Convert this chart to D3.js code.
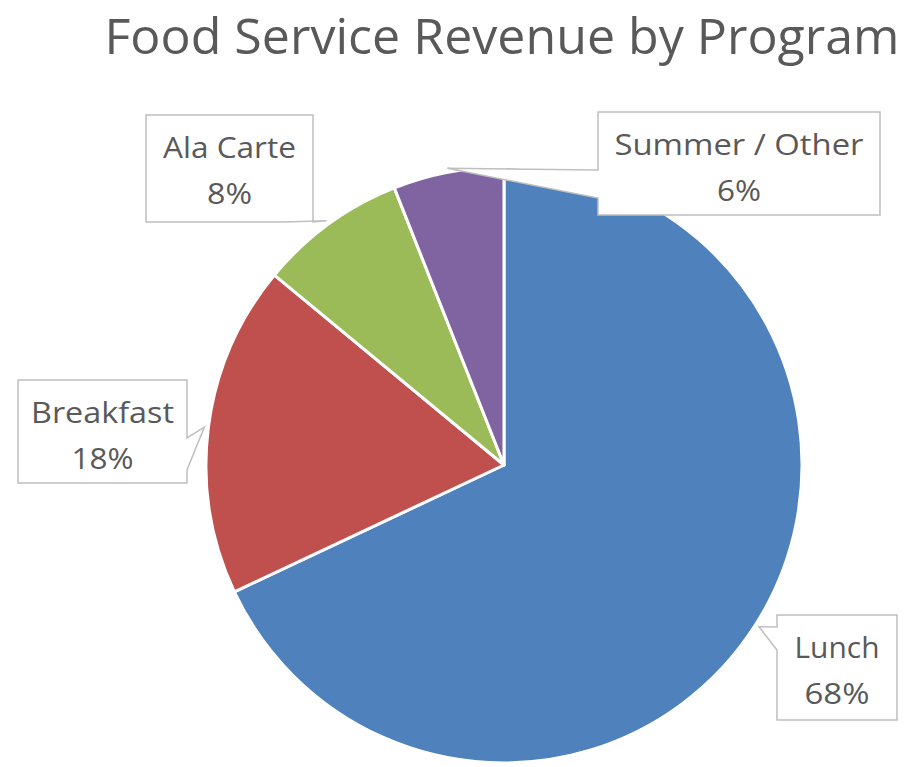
<!DOCTYPE html>
<html>
<head>
<meta charset="utf-8">
<script src="https://cdn.jsdelivr.net/npm/d3@7"></script>
<style>
	html, body { margin: 0; padding: 0; background: #fff; }
	svg { display: block; }
</style>
</head>
<body>
<div id="chart"></div>
<script>
// data
var categories = ['Lunch', 'Breakfast', 'Ala Carte', 'Summer / Other'];
var values = [68, 18, 8, 6];
var colors = ['#4F81BD', '#C0504D', '#9BBB59', '#8064A2'];

var chartTitle = 'Food Service Revenue by Program';

var width = 914, height = 767;
var cx = 504, cy = 465, radius = 298;

// callout boxes (layout only), wedge base sits on one side of the box
var callouts = {
	'Lunch':          { x: 777, y: 615, w: 120, h: 105, side: 'left',   b1: 12, b2: 35, tw: [85, 65] },
	'Breakfast':      { x: 18,  y: 380, w: 169, h: 103, side: 'right',  b1: 58, b2: 90, tw: [143, 62] },
	'Ala Carte':      { x: 146, y: 115, w: 167, h: 107, side: 'bottom', b1: 137, b2: 167, tw: [133, 45] },
	'Summer / Other': { x: 598, y: 112, w: 282, h: 103, side: 'left',   b1: 58, b2: 86, tw: [249, 44] }
};

var svg = d3.select('#chart')
	.append('svg')
	.attr('width', width)
	.attr('height', height)
	.style('font-family', '"Open Sans", "Noto Sans", sans-serif');

svg.append('text')
	.attr('x', 502)
	.attr('y', 54)
	.attr('text-anchor', 'middle')
	.attr('font-size', 49)
	.attr('fill', '#595959')
	.attr('textLength', 795)
	.attr('lengthAdjust', 'spacingAndGlyphs')
	.text(chartTitle);

var data = categories.map(function (c, i) {
	return { name: c, value: values[i], color: colors[i] };
});

var pie = d3.pie().sort(null).value(function (d) { return d.value; });
var arcs = pie(data);
var arc = d3.arc().innerRadius(0).outerRadius(radius);

var g = svg.append('g')
	.attr('transform', 'translate(' + cx + ',' + cy + ')');

g.selectAll('path.slice')
	.data(arcs)
	.enter()
	.append('path')
	.attr('class', 'slice')
	.attr('d', arc)
	.attr('fill', function (d) { return d.data.color; })
	.attr('stroke', '#fff')
	.attr('stroke-width', 3)
	.attr('stroke-linejoin', 'round');

// callout shape: rectangle with a pointer wedge towards the slice
function calloutPath(c, ax, ay) {
	var x0 = c.x, y0 = c.y, x1 = c.x + c.w, y1 = c.y + c.h;
	var p = [[x0, y0], [x1, y0]];
	if (c.side === 'right') {
		p.push([x1, y0 + c.b1], [ax, ay], [x1, y0 + c.b2]);
	}
	p.push([x1, y1]);
	if (c.side === 'bottom') {
		p.push([x0 + c.b2, y1], [ax, ay], [x0 + c.b1, y1]);
	}
	p.push([x0, y1]);
	if (c.side === 'left') {
		p.push([x0, y0 + c.b2], [ax, ay], [x0, y0 + c.b1]);
	}
	return 'M' + p.map(function (q) { return q[0] + ',' + q[1]; }).join('L') + 'Z';
}

var labels = svg.append('g').attr('class', 'callouts');

arcs.forEach(function (d) {
	var c = callouts[d.data.name];
	var mid = (d.startAngle + d.endAngle) / 2;
	var r = radius + 4;
	var ax = cx + r * Math.sin(mid);
	var ay = cy - r * Math.cos(mid);

	labels.append('path')
		.attr('d', calloutPath(c, ax, ay))
		.attr('fill', '#fff')
		.attr('stroke', '#BFBFBF')
		.attr('stroke-width', 1.5)
		.attr('stroke-linejoin', 'miter');

	var lines = [d.data.name, d.data.value + '%'];
	lines.forEach(function (t, i) {
		labels.append('text')
			.attr('x', c.x + c.w / 2)
			.attr('y', c.y + 43 + i * 46)
			.attr('text-anchor', 'middle')
			.attr('font-size', 29)
			.attr('fill', '#595959')
			.attr('textLength', c.tw[i])
			.attr('lengthAdjust', 'spacingAndGlyphs')
			.text(t);
	});
});
</script>
</body>
</html>
